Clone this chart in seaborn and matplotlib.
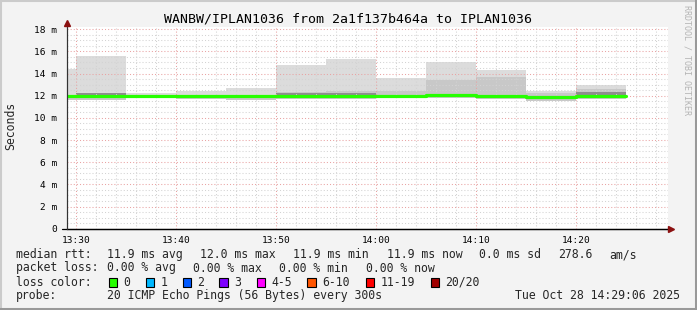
import numpy as np
import matplotlib
matplotlib.use("Agg")
import matplotlib.pyplot as plt
import seaborn as sns
from matplotlib.lines import Line2D
from matplotlib.patches import Rectangle

# ---------------- data ----------------
seg_start = [25, 30, 35, 40, 45, 50, 55, 60, 65, 70, 75, 80]   # minutes after 13:00, 5-min steps
smoke_max = [14.4, 15.55, 12.2, 12.45, 12.7, 14.8, 15.3, 13.6, 15.0, 14.3, 12.4, 13.0]
smoke_mid = [12.1, 12.1, 12.05, 12.05, 12.1, 12.3, 12.4, 12.45, 13.4, 13.65, 12.2, 12.65]
smoke_min = [11.6, 11.6, 11.75, 11.7, 11.65, 11.7, 11.7, 11.8, 11.8, 11.7, 11.55, 11.7]
dark_hi   = [12.1, 12.25, 12.05, 12.05, 12.05, 12.22, 12.22, 12.1, 12.15, 12.1, 12.0, 12.3]
median    = [11.97, 11.97, 11.95, 11.95, 11.95, 11.98, 11.98, 11.95, 12.05, 12.0, 11.85, 12.0]

y_ticks = [0, 2, 4, 6, 8, 10, 12, 14, 16, 18]
y_labels = ["0", "2 m", "4 m", "6 m", "8 m", "10 m", "12 m", "14 m", "16 m", "18 m"]
x_ticks = [30, 40, 50, 60, 70, 80]
x_labels = ["13:30", "13:40", "13:50", "14:00", "14:10", "14:20"]

loss_labels = ["0", "1", "2", "3", "4-5", "6-10", "11-19", "20/20"]
loss_colors = ["#26ff00", "#00b8ff", "#0059ff", "#7e00ff", "#ff00ff", "#ff5500", "#ff0000", "#a10000"]

title = "WANBW/IPLAN1036 from 2a1f137b464a to IPLAN1036"

# ---------------- figure ----------------
sns.set_style("white")
plt.rcParams["font.family"] = ["DejaVu Sans Mono", "DejaVu Sans"]

W, H = 697, 310
fig = plt.figure(figsize=(W / 100, H / 100), dpi=100, facecolor="#f3f3f3")

def fx(px):
    return px / W

def fy(py):
    return 1 - py / H

ax_l, ax_r, ax_b, ax_t = 66.7, 668.0, 228.7, 27.0
ax = fig.add_axes([fx(ax_l), fy(ax_b), fx(ax_r - ax_l), (ax_b - ax_t) / H])
ax.set_facecolor("white")

x_ext = seg_start + [seg_start[-1] + 5]
def ext(v):
    return list(v) + [v[-1]]

ax.fill_between(x_ext, ext(smoke_min), ext(smoke_max), step="post",
                color="#dcdcdc", lw=0, zorder=1)
ax.fill_between(x_ext, ext(smoke_min), ext(smoke_mid), step="post",
                color="#c8c8c8", lw=0, zorder=1.1)
ax.fill_between(x_ext, ext(median), ext(dark_hi), step="post",
                color="#8e8e8e", lw=0, zorder=1.2)

sns.lineplot(x=x_ext, y=ext(median), drawstyle="steps-post", color="#26ff00",
             linewidth=2.3, ax=ax, zorder=3)

ax.set_xlim(29.1, 89.23)
ax.set_ylim(0, 18.2)

ax.set_yticks(y_ticks)
ax.set_yticklabels(y_labels)
ax.set_yticks(np.arange(0, 18.01, 0.5), minor=True)
ax.set_xticks(x_ticks)
ax.set_xticklabels(x_labels)
ax.set_xticks(np.arange(30, 89, 2), minor=True)

ax.set_axisbelow(False)
ax.grid(which="major", color="#e9a3a3", linestyle=(0, (1, 2)), linewidth=0.75)
ax.grid(which="minor", color="#d3d3d3", linestyle=(0, (1, 2)), linewidth=0.75)

ax.tick_params(axis="y", which="major", length=2, width=0.7, pad=5, labelsize=6.8, colors="black")
ax.tick_params(axis="x", which="major", length=2, width=0.7, pad=3, labelsize=6.8, colors="black")
ax.tick_params(which="minor", length=0)

for s in ["top", "right"]:
    ax.spines[s].set_visible(False)
ax.spines["left"].set_color("#333333")
ax.spines["left"].set_linewidth(0.8)
ax.spines["bottom"].set_color("black")
ax.spines["bottom"].set_linewidth(0.9)
ax.set_xlabel("")
ax.set_ylabel("")

# axis extensions and arrows
fig.add_artist(Line2D([fx(62), fx(670)], [fy(ax_b), fy(ax_b)], color="black", lw=0.9))
fig.add_artist(Line2D([fx(ax_l), fx(ax_l)], [fy(ax_b), fy(23)], color="#333333", lw=0.8))
fig.add_artist(Line2D([fx(671)], [fy(ax_b)], marker=">", color="#8b1010", markersize=4, lw=0))
fig.add_artist(Line2D([fx(ax_l)], [fy(23)], marker="^", color="#8b1010", markersize=4, lw=0))

# title & labels
fig.text(fx(348), fy(18.5), title, ha="center", va="center", fontsize=9.5, color="black")
fig.text(fx(10.5), fy(126), "Seconds", rotation=90, ha="center", va="center", fontsize=8.3)
fig.text(fx(687), fy(60), "RRDTOOL / TOBI OETIKER", rotation=270, ha="center", va="center",
         fontsize=6, color="#b4b4b4")

# legend text
fs = 8.3
def t(x, y, s, **kw):
    fig.text(fx(x), fy(y), s, ha=kw.pop("ha", "left"), va="center", fontsize=fs, **kw)

y1, y2, y3, y4 = 254.7, 268.0, 282.3, 295.7
t(16, y1, "median rtt:")
t(107, y1, "11.9 ms avg")
t(200, y1, "12.0 ms max")
t(293, y1, "11.9 ms min")
t(386.7, y1, "11.9 ms now")
t(479.3, y1, "0.0 ms sd")
t(558.3, y1, "278.6")
t(609.3, y1, "am/s")

t(16, y2, "packet loss:")
t(107.3, y2, "0.00 % avg")
t(193.3, y2, "0.00 % max")
t(279.3, y2, "0.00 % min")
t(365.7, y2, "0.00 % now")

t(16, y3, "loss color:")
box_x = [108.7, 145.7, 182.7, 219.3, 256.7, 307.3, 365.7, 430.7]
for bx, lab, col in zip(box_x, loss_labels, loss_colors):
    fig.add_artist(Rectangle((fx(bx), fy(y3 + 4.2)), fx(8.5), 8.5 / H,
                             facecolor=col, edgecolor="black", lw=0.8))
    t(bx + 14.5, y3, lab)

t(16, y4, "probe:")
t(107.3, y4, "20 ICMP Echo Pings (56 Bytes) every 300s")
t(680, y4, "Tue Oct 28 14:29:06 2025", ha="right")

# 3D frame
fig.add_artist(Line2D([0, 1], [fy(1), fy(1)], color="#cbcbcb", lw=1.5))
fig.add_artist(Line2D([fx(1), fx(1)], [0, 1], color="#cbcbcb", lw=1.5))
fig.add_artist(Line2D([0, 1], [fy(308.5), fy(308.5)], color="#999999", lw=2.2))
fig.add_artist(Line2D([fx(695.5), fx(695.5)], [0, 1], color="#999999", lw=2.2))

fig.savefig("out.png", dpi=100, facecolor=fig.get_facecolor())
